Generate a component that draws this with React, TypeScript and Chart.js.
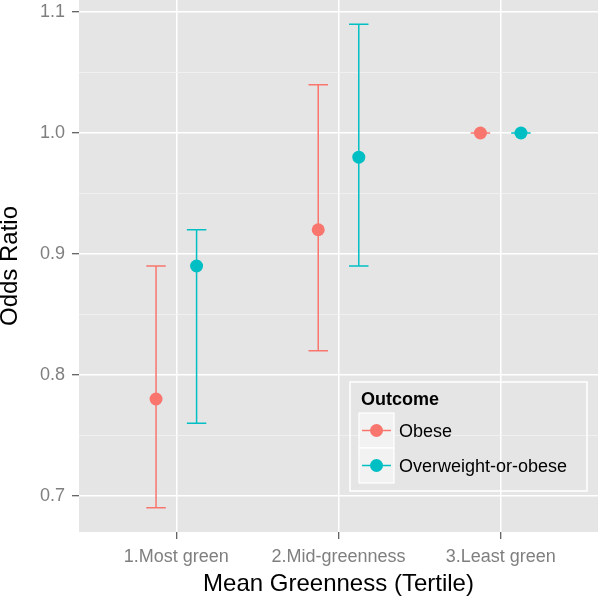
import React, { useEffect, useRef } from 'react';
import { Chart, registerables } from 'chart.js';

Chart.register(...registerables);

// ---- Data ----
const categories = ['1.Most green', '2.Mid-greenness', '3.Least green'];
const seriesNames = ['Obese', 'Overweight-or-obese'];
const obeseOR = [0.78, 0.92, 1.0];
const obeseLower = [0.69, 0.82, 1.0];
const obeseUpper = [0.89, 1.04, 1.0];
const overweightOR = [0.89, 0.98, 1.0];
const overweightLower = [0.76, 0.89, 1.0];
const overweightUpper = [0.92, 1.09, 1.0];
const yMajorTicks = [0.7, 0.8, 0.9, 1.0, 1.1];
const yMinorTicks = [0.75, 0.85, 0.95, 1.05];
const seriesColors = ['#F8766D', '#00BFC4'];

const FONT = "'Liberation Sans', Arial, Helvetica, sans-serif";
const DODGE = 0.125;
const CAP_HALF = 0.06;

const isMajor = (v: number) => yMajorTicks.some((m) => Math.abs(m - v) < 1e-9);

const backgroundPlugin = {
  id: 'panelBg',
  beforeDraw(chart: any) {
    const { ctx, chartArea } = chart;
    ctx.save();
    ctx.fillStyle = '#E5E5E5';
    ctx.fillRect(chartArea.left, chartArea.top, chartArea.right - chartArea.left, chartArea.bottom - chartArea.top);
    ctx.restore();
  },
};

const errorBarPlugin = {
  id: 'errorBars',
  beforeDatasetsDraw(chart: any) {
    const { ctx, chartArea } = chart;
    const xs = chart.scales.x;
    const ys = chart.scales.y;
    ctx.save();
    ctx.beginPath();
    ctx.rect(chartArea.left, chartArea.top, chartArea.right - chartArea.left, chartArea.bottom - chartArea.top);
    ctx.clip();
    chart.data.datasets.forEach((ds: any) => {
      ctx.strokeStyle = ds.borderColor;
      ctx.lineWidth = 1.5;
      ds.data.forEach((pt: any) => {
        const px = xs.getPixelForValue(pt.x);
        const x0 = xs.getPixelForValue(pt.x - CAP_HALF);
        const x1 = xs.getPixelForValue(pt.x + CAP_HALF);
        const yl = ys.getPixelForValue(pt.lo);
        const yh = ys.getPixelForValue(pt.hi);
        ctx.beginPath();
        ctx.moveTo(px, yl);
        ctx.lineTo(px, yh);
        ctx.moveTo(x0, yl);
        ctx.lineTo(x1, yl);
        ctx.moveTo(x0, yh);
        ctx.lineTo(x1, yh);
        ctx.stroke();
      });
    });
    ctx.restore();
  },
};

const legendPlugin = {
  id: 'ggLegend',
  afterDraw(chart: any) {
    const { ctx, chartArea } = chart;
    const left = chartArea.right - 248;
    const top = chartArea.bottom - 150;
    const w = 237;
    const h = 109;
    ctx.save();
    ctx.strokeStyle = '#FFFFFF';
    ctx.lineWidth = 1.5;
    ctx.strokeRect(left, top, w, h);

    ctx.fillStyle = '#000000';
    ctx.font = `bold 18px ${FONT}`;
    ctx.textBaseline = 'alphabetic';
    ctx.textAlign = 'left';
    ctx.fillText('Outcome', left + 11, top + 23);

    const keySize = 35;
    chart.data.datasets.forEach((ds: any, i: number) => {
      const kx = left + 9;
      const ky = top + 31 + i * keySize;
      ctx.fillStyle = '#F2F2F2';
      ctx.fillRect(kx, ky, keySize, keySize);
      ctx.strokeStyle = '#FFFFFF';
      ctx.lineWidth = 1.2;
      ctx.strokeRect(kx, ky, keySize, keySize);
      const cy = ky + keySize / 2;
      const cx = kx + keySize / 2;
      ctx.strokeStyle = ds.borderColor;
      ctx.lineWidth = 1.5;
      ctx.beginPath();
      ctx.moveTo(kx + 3, cy);
      ctx.lineTo(kx + keySize - 3, cy);
      ctx.stroke();
      ctx.fillStyle = ds.backgroundColor;
      ctx.beginPath();
      ctx.arc(cx, cy, 6.5, 0, Math.PI * 2);
      ctx.fill();
      ctx.fillStyle = '#000000';
      ctx.font = `18px ${FONT}`;
      ctx.fillText(ds.label, left + 49, cy + 6.5);
    });
    ctx.restore();
  },
};

export default function App() {
  const canvasRef = useRef<HTMLCanvasElement | null>(null);

  useEffect(() => {
    document.body.style.margin = '0';
    const canvas = canvasRef.current;
    if (!canvas) return;

    const series = [
      { or: obeseOR, lo: obeseLower, hi: obeseUpper },
      { or: overweightOR, lo: overweightLower, hi: overweightUpper },
    ];

    const datasets = series.map((s, si) => ({
      label: seriesNames[si],
      data: categories.map((_, i) => ({
        x: i + 1 + (si === 0 ? -DODGE : DODGE),
        y: s.or[i],
        lo: s.lo[i],
        hi: s.hi[i],
      })),
      borderColor: seriesColors[si],
      backgroundColor: seriesColors[si],
      pointRadius: 6.5,
      pointBorderWidth: 0,
      pointHoverRadius: 6.5,
      showLine: false,
    }));

    const chart = new Chart(canvas, {
      type: 'scatter',
      data: { datasets } as any,
      options: {
        animation: false,
        responsive: true,
        maintainAspectRatio: false,
        layout: { autoPadding: false, padding: { top: 0, right: 2, left: 0, bottom: 0 } },
        plugins: {
          legend: { display: false },
          tooltip: { enabled: false },
        },
        scales: {
          x: {
            type: 'linear',
            min: 0.4,
            max: 3.6,
            afterBuildTicks: (s: any) => {
              s.ticks = categories.map((_, i) => ({ value: i + 1 }));
            },
            afterFit: (s: any) => {
              s.height = 66;
              s.paddingLeft = 0;
              s.paddingRight = 0;
            },
            border: { display: false },
            grid: {
              color: '#FFFFFF',
              lineWidth: 1.5,
              drawTicks: true,
              tickLength: 7,
              tickColor: '#333333',
              tickWidth: 1,
            },
            ticks: {
              autoSkip: false,
              maxRotation: 0,
              padding: 7,
              color: '#7F7F7F',
              font: { family: FONT, size: 18 },
              callback: (v: any) => categories[Math.round(Number(v)) - 1] ?? '',
            },
            title: {
              display: true,
              text: 'Mean Greenness (Tertile)',
              color: '#000000',
              font: { family: FONT, size: 24, lineHeight: 1.1 },
              padding: { top: 0, bottom: 0 },
            },
          },
          y: {
            type: 'linear',
            min: 0.67,
            max: 1.11,
            afterBuildTicks: (s: any) => {
              s.ticks = [...yMajorTicks, ...yMinorTicks]
                .sort((a, b) => a - b)
                .map((v) => ({ value: v }));
            },
            afterFit: (s: any) => {
              s.width = 79;
              s.paddingTop = 0;
              s.paddingBottom = 0;
            },
            border: { display: false },
            grid: {
              color: (c: any) => (isMajor(c.tick?.value) ? '#FFFFFF' : '#F2F2F2'),
              lineWidth: (c: any) => (isMajor(c.tick?.value) ? 1.5 : 0.8),
              drawTicks: true,
              tickLength: 7,
              tickColor: (c: any) => (isMajor(c.tick?.value) ? '#333333' : 'rgba(0,0,0,0)'),
              tickWidth: 1,
            },
            ticks: {
              autoSkip: false,
              padding: 7,
              color: '#7F7F7F',
              font: { family: FONT, size: 18 },
              callback: (v: any) => (isMajor(Number(v)) ? Number(v).toFixed(1) : ''),
            },
            title: {
              display: true,
              text: 'Odds Ratio',
              color: '#000000',
              font: { family: FONT, size: 24, lineHeight: 1 },
              padding: { top: -2, bottom: 0 },
            },
          },
        },
      } as any,
      plugins: [backgroundPlugin, errorBarPlugin, legendPlugin],
    });

    return () => {
      chart.destroy();
    };
  }, []);

  return (
    <div style={{ position: 'fixed', left: 0, top: 0, width: 600, height: 598 }}>
      <canvas ref={canvasRef} />
    </div>
  );
}
